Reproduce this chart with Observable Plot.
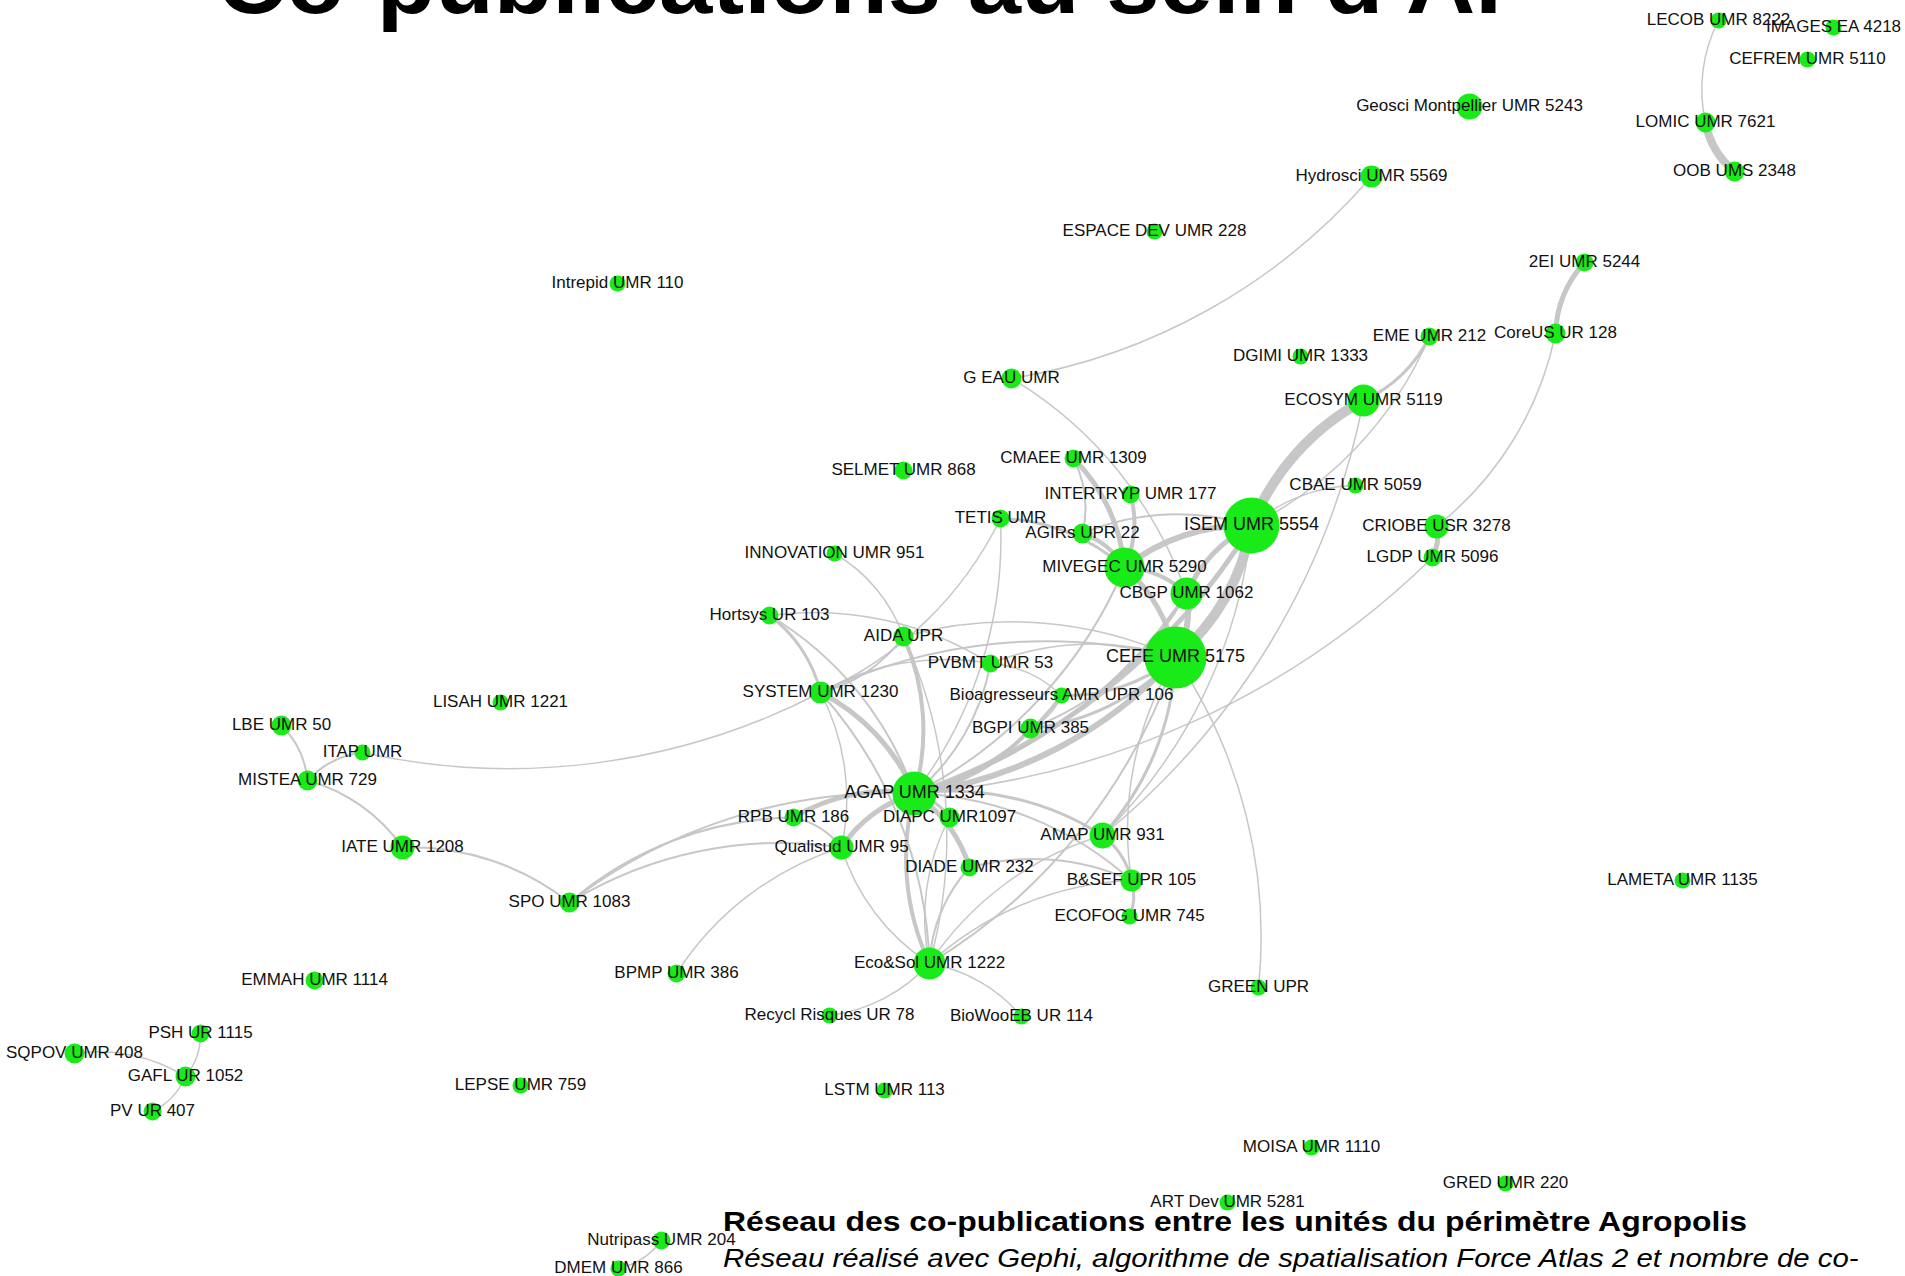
<!DOCTYPE html>
<html><head><meta charset="utf-8">
<script src="https://cdn.jsdelivr.net/npm/d3@7"></script>
<script src="https://cdn.jsdelivr.net/npm/@observablehq/plot@0.6"></script>
<style>
body{margin:0;background:#fff;}
#wrap{position:relative;width:1905px;height:1276px;overflow:hidden;font-family:Arial,"Liberation Sans",sans-serif;color:#000;}
#chart{position:absolute;left:0;top:0;}
#title{position:absolute;left:217px;top:-63px;font-size:90px;font-weight:bold;line-height:1;white-space:nowrap;transform:scaleX(1.065);transform-origin:left top;}
#cap1{position:absolute;left:723px;top:1208px;font-size:28px;font-weight:bold;line-height:1;white-space:nowrap;transform:scaleX(1.14);transform-origin:left top;}
#cap2{position:absolute;left:723px;top:1245px;font-size:26px;font-style:italic;line-height:1;white-space:nowrap;transform:scaleX(1.13);transform-origin:left top;}
</style></head>
<body>
<div id="wrap">
  <div id="chart"></div>
  <div id="title">Co-publications au sein d'AI</div>
  <div id="cap1">Réseau des co-publications entre les unités du périmètre Agropolis</div>
  <div id="cap2">Réseau réalisé avec Gephi, algorithme de spatialisation Force Atlas 2 et nombre de co-</div>
</div>
<script>
// ---- Nodes (units), Gephi layout coordinates and node weight ----
const unitNames = [
"LECOB UMR 8222","IMAGES EA 4218","CEFREM UMR 5110","Geosci Montpellier UMR 5243","LOMIC UMR 7621",
"OOB UMS 2348","Hydrosci UMR 5569","ESPACE DEV UMR 228","2EI UMR 5244","Intrepid UMR 110",
"EME UMR 212","CoreUS UR 128","DGIMI UMR 1333","G EAU UMR","ECOSYM UMR 5119",
"CMAEE UMR 1309","SELMET UMR 868","CBAE UMR 5059","INTERTRYP UMR 177","TETIS UMR",
"AGIRs UPR 22","ISEM UMR 5554","CRIOBE USR 3278","INNOVATION UMR 951","LGDP UMR 5096",
"MIVEGEC UMR 5290","CBGP UMR 1062","Hortsys UR 103","AIDA UPR","PVBMT UMR 53",
"CEFE UMR 5175","SYSTEM UMR 1230","Bioagresseurs AMR UPR 106","LISAH UMR 1221","LBE UMR 50",
"BGPI UMR 385","ITAP UMR","MISTEA UMR 729","AGAP UMR 1334","RPB UMR 186",
"DIAPC UMR1097","AMAP UMR 931","IATE UMR 1208","Qualisud UMR 95","DIADE UMR 232",
"B&SEF UPR 105","LAMETA UMR 1135","SPO UMR 1083","ECOFOG UMR 745","Eco&Sol UMR 1222",
"BPMP UMR 386","EMMAH UMR 1114","GREEN UPR","Recycl Risques UR 78","BioWooEB UR 114",
"PSH UR 1115","SQPOV UMR 408","GAFL UR 1052","LEPSE UMR 759","LSTM UMR 113",
"PV UR 407","MOISA UMR 1110","GRED UMR 220","ART Dev UMR 5281","Nutripass UMR 204",
"DMEM UMR 866"];
const layoutX = [
1718,1833,1807,1469,1705, 1734,1371,1154,1584,617, 1429,1555,1300,1011,1363,
1073,903,1355,1130,1000, 1082,1251,1436,834,1432, 1124,1186,769,903,990,
1175,820,1061,500,281, 1030,362,307,914,793, 949,1102,402,841,969,
1131,1682,569,1129,929, 676,314,1258,829,1021, 200,74,185,520,884,
152,1311,1505,1227,661, 618];
const layoutY = [
20,27,59,106,122, 171,176,231,262,283, 336,333,356,378,400,
458,470,485,494,518, 533,525,526,553,557, 567,593,615,636,663,
657,692,695,702,725, 728,752,780,793,817, 817,835,847,847,867,
880,880,902,916,963, 973,980,987,1015,1016, 1033,1053,1076,1085,1090,
1111,1147,1183,1202,1240, 1268];
const nodeWeight = [
8,8,8,13,10, 10,11,8,9,8, 9,10,8,10,16,
9,9,8,9,9, 10,28,12,8,9, 20,16,9,10,9,
31,11,8,8,10, 10,8,10,22,9, 10,13,12,12,9,
11,8,10,8,16, 9,9,8,8,8, 9,10,10,8,8,
9,8,8,8,9, 8];

// ---- Edges (co-publication links) ----
const edgeSource = [
"Hydrosci UMR 5569","LOMIC UMR 7621","OOB UMS 2348","CoreUS UR 128","CoreUS UR 128","CRIOBE USR 3278","LGDP UMR 5096","ECOSYM UMR 5119",
"ISEM UMR 5554","EME UMR 212","EME UMR 212","ISEM UMR 5554",
"LBE UMR 50","MISTEA UMR 729","MISTEA UMR 729","IATE UMR 1208","SYSTEM UMR 1230",
"SPO UMR 1083","SPO UMR 1083","SPO UMR 1083","BPMP UMR 386",
"PSH UR 1115","SQPOV UMR 408","GAFL UR 1052","Nutripass UMR 204",
"Eco&Sol UMR 1222","Eco&Sol UMR 1222","AMAP UMR 931","B&SEF UPR 105","CEFE UMR 5175",
"INNOVATION UMR 951","Hortsys UR 103","Hortsys UR 103","Hortsys UR 103",
"AIDA UPR","AIDA UPR","AIDA UPR","AIDA UPR",
"TETIS UMR","TETIS UMR","TETIS UMR",
"CMAEE UMR 1309","CMAEE UMR 1309","INTERTRYP UMR 177","AGIRs UPR 22","AGIRs UPR 22","G EAU UMR",
"MIVEGEC UMR 5290","MIVEGEC UMR 5290","MIVEGEC UMR 5290","MIVEGEC UMR 5290",
"CBGP UMR 1062","CBGP UMR 1062","CBGP UMR 1062","CBGP UMR 1062",
"ISEM UMR 5554","CEFE UMR 5175","SYSTEM UMR 1230","CEFE UMR 5175","CEFE UMR 5175","CEFE UMR 5175","CEFE UMR 5175","PVBMT UMR 53","B&SEF UPR 105",
"ISEM UMR 5554","ISEM UMR 5554",
"SYSTEM UMR 1230","RPB UMR 186","Qualisud UMR 95","AGAP UMR 1334","AGAP UMR 1334","Eco&Sol UMR 1222","AGAP UMR 1334","AGAP UMR 1334","BGPI UMR 385","Bioagresseurs AMR UPR 106","PVBMT UMR 53",
"SYSTEM UMR 1230","SYSTEM UMR 1230","SYSTEM UMR 1230",
"Eco&Sol UMR 1222","Eco&Sol UMR 1222","Eco&Sol UMR 1222","Eco&Sol UMR 1222",
"PVBMT UMR 53","Bioagresseurs AMR UPR 106","Eco&Sol UMR 1222","DIADE UMR 232","RPB UMR 186"];
const edgeTarget = [
"G EAU UMR","LECOB UMR 8222","LOMIC UMR 7621","2EI UMR 5244","CRIOBE USR 3278","LGDP UMR 5096","AGAP UMR 1334","AMAP UMR 931",
"CBAE UMR 5059","ECOSYM UMR 5119","ISEM UMR 5554","ECOSYM UMR 5119",
"MISTEA UMR 729","ITAP UMR","IATE UMR 1208","SPO UMR 1083","ITAP UMR",
"AGAP UMR 1334","RPB UMR 186","Qualisud UMR 95","Qualisud UMR 95",
"GAFL UR 1052","GAFL UR 1052","PV UR 407","DMEM UMR 866",
"Recycl Risques UR 78","BioWooEB UR 114","B&SEF UPR 105","ECOFOG UMR 745","GREEN UPR",
"AIDA UPR","SYSTEM UMR 1230","AGAP UMR 1334","PVBMT UMR 53",
"AGAP UMR 1334","SYSTEM UMR 1230","CEFE UMR 5175","Eco&Sol UMR 1222",
"MIVEGEC UMR 5290","SYSTEM UMR 1230","AGAP UMR 1334",
"MIVEGEC UMR 5290","AGIRs UPR 22","MIVEGEC UMR 5290","MIVEGEC UMR 5290","ISEM UMR 5554","CBGP UMR 1062",
"ISEM UMR 5554","CBGP UMR 1062","CEFE UMR 5175","AGAP UMR 1334",
"CEFE UMR 5175","ISEM UMR 5554","AGAP UMR 1334","BGPI UMR 385",
"CEFE UMR 5175","AGAP UMR 1334","CEFE UMR 5175","Bioagresseurs AMR UPR 106","BGPI UMR 385","AMAP UMR 931","Eco&Sol UMR 1222","CEFE UMR 5175","CEFE UMR 5175",
"AGAP UMR 1334","AMAP UMR 931",
"AGAP UMR 1334","AGAP UMR 1334","AGAP UMR 1334","DIAPC UMR1097","DIADE UMR 232","AGAP UMR 1334","AMAP UMR 931","B&SEF UPR 105","AGAP UMR 1334","AGAP UMR 1334","AGAP UMR 1334",
"Eco&Sol UMR 1222","Qualisud UMR 95","PVBMT UMR 53",
"DIADE UMR 232","Qualisud UMR 95","AMAP UMR 931","B&SEF UPR 105",
"Bioagresseurs AMR UPR 106","BGPI UMR 385","DIAPC UMR1097","B&SEF UPR 105","Qualisud UMR 95"];
const edgeWeight = [
1.5,1.5,8,5,1.5,5,1.5,1.5,
1.5,3,1.5,10,
2,2,2,2,1.5,
2,2,2,1.5,
1.5,1.5,1.5,1.5,
1.5,1.5,3,3,1.5,
1.5,3,2,1.5,
4,2,1.5,1.5,
3,1.5,1.5,
5,2,4,4,2,1.5,
6,4,5,2,
6,5,3,2,
10,6,2,3,3,3,2,1.5,1.5,
5,1.5,
5,5,5,3,5,4,3,2,4,3,2,
2,1.5,1.5,
2,1.5,1.5,1.5,
1.5,1.5,1.5,2,2];

// ---- Build tables ----
const nodes = unitNames.map((name, i) => ({name, x: layoutX[i], y: layoutY[i], w: nodeWeight[i]}));
const byName = new Map(nodes.map(d => [d.name, d]));
const edges = edgeSource.map((s, i) => {
  const a = byName.get(s), b = byName.get(edgeTarget[i]);
  return {x1: a.x, y1: a.y, x2: b.x, y2: b.y, w: edgeWeight[i]};
}).sort((a, b) => a.w - b.w);

const chart = Plot.plot({
  width: 1905,
  height: 1276,
  margin: 0,
  x: {domain: [0, 1905], range: [0, 1905], axis: null},
  y: {domain: [0, 1276], range: [0, 1276], axis: null},
  r: {type: "linear", domain: [0, 32], range: [0, 32]},
  style: {background: "white", fontFamily: "Arial, 'Liberation Sans', sans-serif"},
  marks: [
    Plot.arrow(edges, {x1: "x1", y1: "y1", x2: "x2", y2: "y2", bend: 20, headLength: 0,
      stroke: "#c4c4c4", strokeWidth: "w", strokeOpacity: 0.95}),
    Plot.dot(nodes, {x: "x", y: "y", r: "w", fill: "#19eb19", stroke: "none"}),
    Plot.text(nodes, {x: "x", y: "y", text: "name", fill: "#111",
      fontSize: d => 17 + (d.w > 20 ? 1 : 0), textAnchor: "middle", dy: -1})
  ]
});
document.getElementById("chart").appendChild(chart);
</script>
</body></html>
